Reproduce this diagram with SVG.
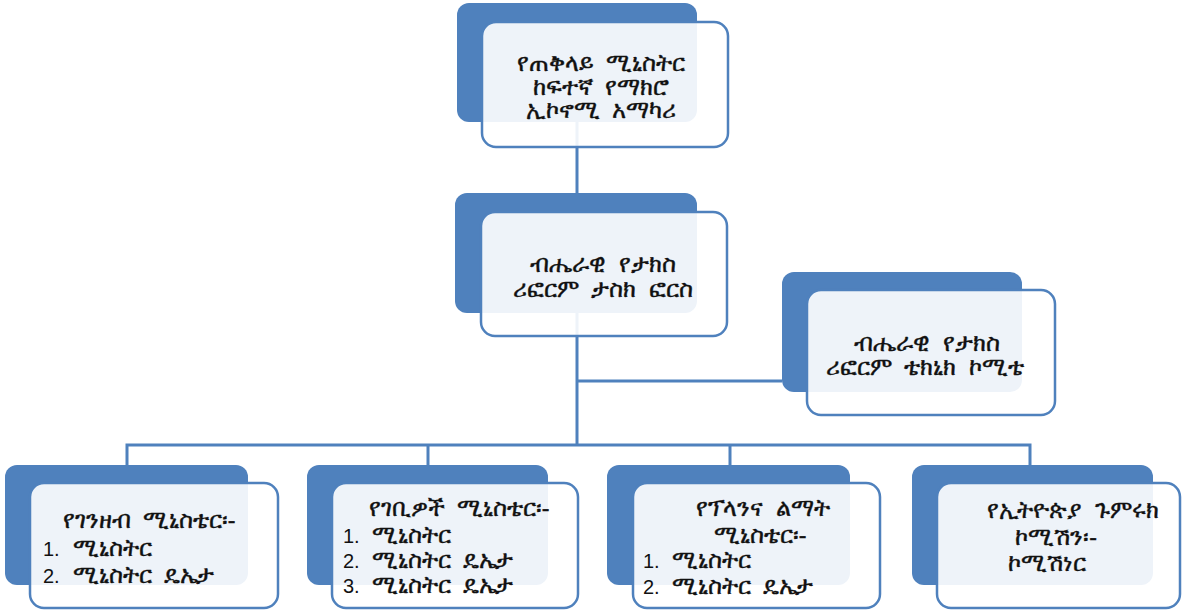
<svg xmlns="http://www.w3.org/2000/svg" width="1182" height="612" viewBox="0 0 1182 612">
<style>
.back{fill:#4f81bd;}
.front{fill:#ffffff;fill-opacity:0.9;stroke:#4f81bd;stroke-width:2.5;}
.conn{fill:none;stroke:#4f81bd;stroke-width:3;}
text{font-family:"Noto Sans","DejaVu Sans","Liberation Sans",sans-serif;font-size:24px;word-spacing:6px;fill:#111;stroke:#111;stroke-width:0.35;}
.n{font-family:"Liberation Sans",Arial,sans-serif;font-size:20px;stroke-width:0;}
.c{text-anchor:middle;}
</style>
<rect width="1182" height="612" fill="#ffffff"/>
<g id="connectors">
<path class="conn" d="M577,122 V193"/>
<path class="conn" d="M577,313 V445"/>
<path class="conn" d="M577,381 H782"/>
<path class="conn" d="M127,465 V445 H1030 V465"/>
<path class="conn" d="M428,445 V465"/>
<path class="conn" d="M730,445 V465"/>
</g>
<g id="node-advisor">
<rect class="back" x="457" y="3" width="240" height="119" rx="12"/>
<rect class="front" x="482" y="22" width="246" height="125" rx="14"/>
<text class="c" x="601" y="71">የጠቅላይ ሚኒስትር</text>
<text class="c" x="601" y="95">ከፍተኛ የማክሮ</text>
<text class="c" x="601" y="118">ኢኮኖሚ አማካሪ</text>
</g>
<g id="node-taskforce">
<rect class="back" x="455" y="193" width="242" height="120" rx="12"/>
<rect class="front" x="481" y="212" width="246" height="124" rx="14"/>
<text class="c" x="603" y="272">ብሔራዊ የታክስ</text>
<text class="c" x="603" y="297">ሪፎርም ታስክ ፎርስ</text>
</g>
<g id="node-technical">
<rect class="back" x="782" y="272" width="240" height="120" rx="12"/>
<rect class="front" x="807" y="290" width="248" height="125" rx="14"/>
<text class="c" x="927" y="351">ብሔራዊ የታክስ</text>
<text class="c" x="925" y="375">ሪፎርም ቴክኒክ ኮሚቴ</text>
</g>
<g id="node-finance">
<rect class="back" x="5" y="465" width="243" height="120" rx="12"/>
<rect class="front" x="30" y="483" width="248" height="125" rx="14"/>
<text class="c" x="149" y="528">የገንዘብ ሚኒስቴር፡-</text>
<text class="n" x="43" y="556">1.</text><text x="73" y="556">ሚኒስትር</text>
<text class="n" x="43" y="583">2.</text><text x="73" y="583">ሚኒስትር ዴኤታ</text>
</g>
<g id="node-revenue">
<rect class="back" x="307" y="465" width="241" height="120" rx="12"/>
<rect class="front" x="332" y="483" width="246" height="125" rx="14"/>
<text class="c" x="459" y="516">የገቢዎች ሚኒስቴር፡-</text>
<text class="n" x="343" y="543">1.</text><text x="372" y="543">ሚኒስትር</text>
<text class="n" x="343" y="568">2.</text><text x="372" y="568">ሚኒስትር ዴኤታ</text>
<text class="n" x="343" y="593">3.</text><text x="372" y="593">ሚኒስትር ዴኤታ</text>
</g>
<g id="node-planning">
<rect class="back" x="607" y="465" width="243" height="120" rx="12"/>
<rect class="front" x="633" y="483" width="247" height="125" rx="14"/>
<text class="c" x="763" y="516">የፕላንና ልማት</text>
<text class="c" x="760" y="543">ሚኒስቴር፡-</text>
<text class="n" x="643" y="568">1.</text><text x="672" y="568">ሚኒስትር</text>
<text class="n" x="643" y="594">2.</text><text x="672" y="594">ሚኒስትር ዴኤታ</text>
</g>
<g id="node-customs">
<rect class="back" x="912" y="465" width="241" height="120" rx="12"/>
<rect class="front" x="937" y="483" width="243" height="125" rx="14"/>
<text class="c" x="1073" y="518">የኢትዮጵያ ጉምሩክ</text>
<text class="c" x="1056" y="545">ኮሚሽን፡-</text>
<text class="c" x="1047" y="571">ኮሚሽነር</text>
</g>
</svg>
